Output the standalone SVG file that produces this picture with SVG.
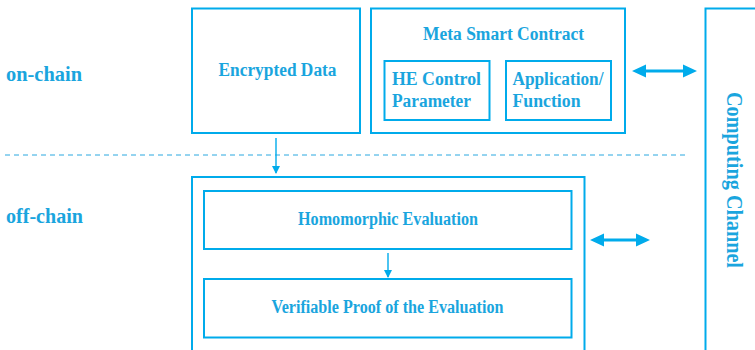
<svg xmlns="http://www.w3.org/2000/svg" width="755" height="350" viewBox="0 0 755 350">
  <defs>
    <style>
      .box { fill: none; stroke: #00abeb; stroke-width: 2; }
      .thin { stroke: #00abeb; stroke-width: 1.4; fill: none; }
      .thick { stroke: #00abeb; stroke-width: 3.2; fill: none; }
      .dash { stroke: #2aa8e0; stroke-width: 1; stroke-dasharray: 5 4; fill: none; }
      .head { fill: #00abeb; }
    </style>
    <marker id="head-small" viewBox="0 0 8 8" refX="7" refY="4" markerWidth="8" markerHeight="8" markerUnits="userSpaceOnUse" orient="auto">
      <path d="M0,0 L8,4 L0,8 Z" fill="#00abeb"/>
    </marker>
  </defs>

  <g font-family="'Liberation Serif', 'Times New Roman', serif" font-weight="bold" fill="#1aa5de">
  <!-- layer labels and divider -->
  <g id="layers">
    <text x="6" y="81" font-size="21" textLength="76" lengthAdjust="spacingAndGlyphs">on-chain</text>
    <text x="6" y="223" font-size="21" textLength="77" lengthAdjust="spacingAndGlyphs">off-chain</text>
    <line class="dash" x1="5" y1="155" x2="686" y2="155"/>
  </g>

  <g id="encrypted-data">
    <rect class="box" x="192" y="8.5" width="168" height="124.5"/>
    <text x="277.5" y="76" font-size="18.5" text-anchor="middle" textLength="118" lengthAdjust="spacingAndGlyphs">Encrypted Data</text>
  </g>

  <g id="meta-smart-contract">
    <rect class="box" x="371" y="8.5" width="254" height="124.5"/>
    <text x="503.5" y="40" font-size="18" text-anchor="middle" textLength="161" lengthAdjust="spacingAndGlyphs">Meta Smart Contract</text>
  </g>

  <g id="he-control-parameter">
    <rect class="box" x="384.5" y="61" width="105" height="59"/>
    <text x="392" y="85" font-size="18.5" textLength="89" lengthAdjust="spacingAndGlyphs">HE Control</text>
    <text x="392" y="107" font-size="18.5" textLength="79" lengthAdjust="spacingAndGlyphs">Parameter</text>
  </g>

  <g id="application-function">
    <rect class="box" x="506" y="61" width="105" height="59"/>
    <text x="512.5" y="85" font-size="18.5" textLength="91" lengthAdjust="spacingAndGlyphs">Application/</text>
    <text x="512.5" y="107" font-size="18.5" textLength="68" lengthAdjust="spacingAndGlyphs">Function</text>
  </g>

  <g id="off-chain-container">
    <rect class="box" x="192" y="177" width="392.5" height="190"/>
  </g>

  <g id="homomorphic-evaluation">
    <rect class="box" x="204" y="191" width="367.5" height="58"/>
    <text x="388" y="225" font-size="18" text-anchor="middle" textLength="180" lengthAdjust="spacingAndGlyphs">Homomorphic Evaluation</text>
  </g>

  <g id="verifiable-proof">
    <rect class="box" x="204" y="279" width="367.5" height="58.5"/>
    <text x="387.5" y="313" font-size="18" text-anchor="middle" textLength="232" lengthAdjust="spacingAndGlyphs">Verifiable Proof of the Evaluation</text>
  </g>

  <g id="computing-channel">
    <rect class="box" x="705.5" y="8.5" width="60" height="360"/>
    <text transform="translate(727,92) rotate(90)" x="0" y="0" font-size="23" textLength="176" lengthAdjust="spacingAndGlyphs">Computing Channel</text>
  </g>
  </g>

  <!-- connectors: thin flow arrows and thick two-way links -->
  <g id="connectors">
    <line class="thin" x1="276" y1="138" x2="276" y2="173" marker-end="url(#head-small)"/>
    <line class="thin" x1="388" y1="253" x2="388" y2="277" marker-end="url(#head-small)"/>
    <line class="thick" x1="644" y1="71" x2="685" y2="71"/>
    <path class="head" d="M632,71 L646,64.5 L646,77.5 Z M697,71 L683,64.5 L683,77.5 Z"/>
    <line class="thick" x1="602" y1="240" x2="638" y2="240"/>
    <path class="head" d="M590,240 L604,233.5 L604,246.5 Z M650,240 L636,233.5 L636,246.5 Z"/>
  </g>
</svg>
